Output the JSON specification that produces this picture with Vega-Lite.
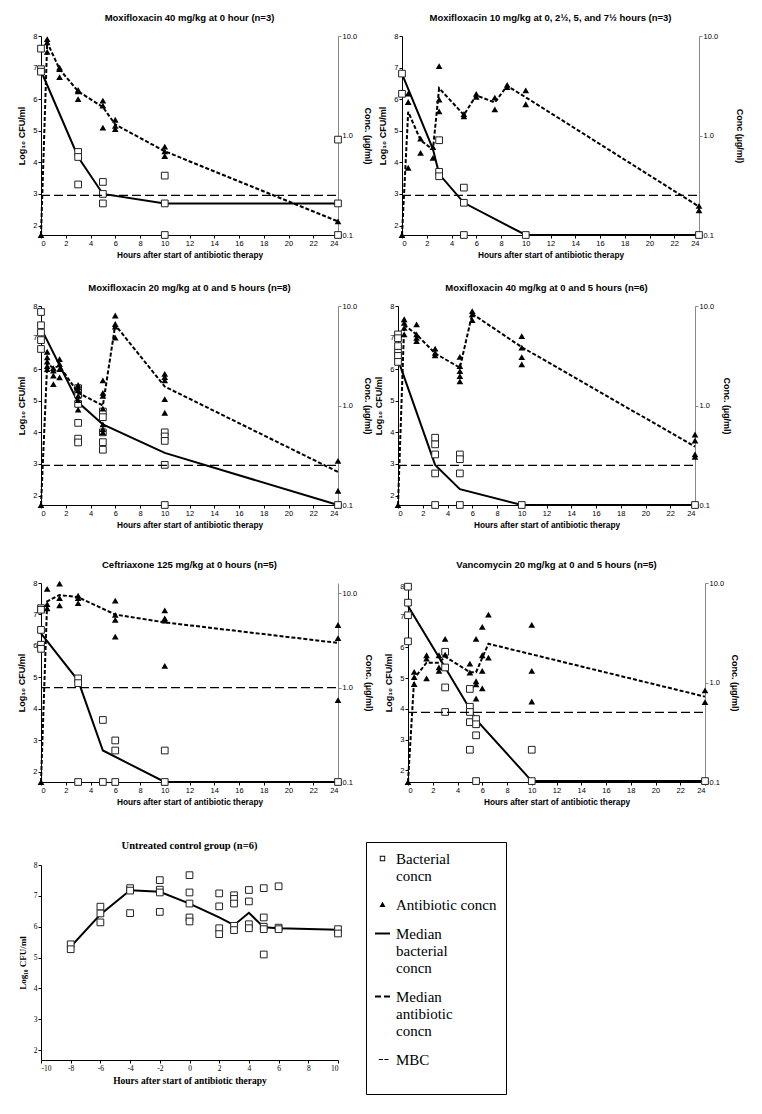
{
"$schema": "https://vega.github.io/schema/vega-lite/v6.json",
"background": "white",
"padding": {"left": 17, "top": 12, "right": 5, "bottom": 5},
"datasets": {
"leg": [{"k": "Bacterial concn"}, {"k": "Antibiotic concn"}, {"k": "Median bacterial concn"}, {"k": "Median antibiotic concn"}, {"k": "MBC"}],
"obs": [
{"p":1,"s":"b","t":0,"v":7.6},{"p":1,"s":"b","t":0,"v":6.95},{"p":1,"s":"b","t":0,"v":6.87},{"p":1,"s":"b","t":3,"v":4.33},{"p":1,"s":"b","t":3,"v":4.17},{"p":1,"s":"b","t":3,"v":3.3},{"p":1,"s":"b","t":5,"v":3.38},{"p":1,"s":"b","t":5,"v":3.0},{"p":1,"s":"b","t":5,"v":2.7},{"p":1,"s":"b","t":10,"v":3.58},{"p":1,"s":"b","t":10,"v":2.7},{"p":1,"s":"b","t":10,"v":1.7},{"p":1,"s":"b","t":24,"v":4.72},{"p":1,"s":"b","t":24,"v":2.7},{"p":1,"s":"b","t":24,"v":1.7},
{"p":1,"s":"bm","t":0,"v":6.9},{"p":1,"s":"bm","t":3,"v":4.17},{"p":1,"s":"bm","t":5,"v":3.0},{"p":1,"s":"bm","t":10,"v":2.7},{"p":1,"s":"bm","t":24,"v":2.7},
{"p":1,"s":"a","t":0,"v":0.1},{"p":1,"s":"a","t":0.5,"v":9.29},{"p":1,"s":"a","t":0.5,"v":8.64},{"p":1,"s":"a","t":0.5,"v":6.94},{"p":1,"s":"a","t":1.5,"v":4.82},{"p":1,"s":"a","t":1.5,"v":4.64},{"p":1,"s":"a","t":1.5,"v":3.86},{"p":1,"s":"a","t":3,"v":2.88},{"p":1,"s":"a","t":3,"v":2.78},{"p":1,"s":"a","t":3,"v":2.32},{"p":1,"s":"a","t":5,"v":2.24},{"p":1,"s":"a","t":5,"v":2.0},{"p":1,"s":"a","t":5,"v":1.2},{"p":1,"s":"a","t":6,"v":1.44},{"p":1,"s":"a","t":6,"v":1.25},{"p":1,"s":"a","t":6,"v":1.16},{"p":1,"s":"a","t":10,"v":0.774},{"p":1,"s":"a","t":10,"v":0.694},{"p":1,"s":"a","t":10,"v":0.622},{"p":1,"s":"a","t":24,"v":0.137},
{"p":1,"s":"am","t":0,"v":0.1},{"p":1,"s":"am","t":0.5,"v":8.64},{"p":1,"s":"am","t":1.5,"v":4.64},{"p":1,"s":"am","t":3,"v":2.78},{"p":1,"s":"am","t":5,"v":1.93},{"p":1,"s":"am","t":6,"v":1.29},{"p":1,"s":"am","t":10,"v":0.694},{"p":1,"s":"am","t":24,"v":0.137},
{"p":1,"s":"mbc","t":0,"v":0.25},{"p":1,"s":"mbc","t":24,"v":0.25},

{"p":2,"s":"b","t":0,"v":6.81},{"p":2,"s":"b","t":0,"v":6.17},{"p":2,"s":"b","t":3,"v":4.7},{"p":2,"s":"b","t":3,"v":3.7},{"p":2,"s":"b","t":3,"v":3.56},{"p":2,"s":"b","t":5,"v":3.2},{"p":2,"s":"b","t":5,"v":2.72},{"p":2,"s":"b","t":5,"v":1.7},{"p":2,"s":"b","t":10,"v":1.7},{"p":2,"s":"b","t":24,"v":1.7},
{"p":2,"s":"bm","t":0,"v":6.8},{"p":2,"s":"bm","t":2.5,"v":4.42},{"p":2,"s":"bm","t":3,"v":3.63},{"p":2,"s":"bm","t":5,"v":2.72},{"p":2,"s":"bm","t":10,"v":1.7},{"p":2,"s":"bm","t":24,"v":1.7},
{"p":2,"s":"a","t":0,"v":0.1},{"p":2,"s":"a","t":0.5,"v":2.64},{"p":2,"s":"a","t":0.5,"v":2.17},{"p":2,"s":"a","t":0.5,"v":0.474},{"p":2,"s":"a","t":1.5,"v":0.929},{"p":2,"s":"a","t":1.5,"v":0.668},{"p":2,"s":"a","t":2.5,"v":0.764},{"p":2,"s":"a","t":2.5,"v":0.596},{"p":2,"s":"a","t":3,"v":4.99},{"p":2,"s":"a","t":3,"v":2.3},{"p":2,"s":"a","t":3,"v":1.75},{"p":2,"s":"a","t":5,"v":1.64},{"p":2,"s":"a","t":5,"v":1.56},{"p":2,"s":"a","t":6,"v":2.62},{"p":2,"s":"a","t":6,"v":2.44},{"p":2,"s":"a","t":7.5,"v":2.4},{"p":2,"s":"a","t":7.5,"v":1.83},{"p":2,"s":"a","t":8.5,"v":3.22},{"p":2,"s":"a","t":8.5,"v":3.06},{"p":2,"s":"a","t":10,"v":2.84},{"p":2,"s":"a","t":10,"v":2.06},{"p":2,"s":"a","t":24,"v":0.196},{"p":2,"s":"a","t":24,"v":0.177},
{"p":2,"s":"am","t":0,"v":0.1},{"p":2,"s":"am","t":0.5,"v":1.73},{"p":2,"s":"am","t":1.5,"v":0.896},{"p":2,"s":"am","t":2.5,"v":0.72},{"p":2,"s":"am","t":3,"v":2.99},{"p":2,"s":"am","t":5,"v":1.61},{"p":2,"s":"am","t":6,"v":2.53},{"p":2,"s":"am","t":7.5,"v":2.15},{"p":2,"s":"am","t":8.5,"v":3.15},{"p":2,"s":"am","t":10,"v":2.42},{"p":2,"s":"am","t":24,"v":0.193},
{"p":2,"s":"mbc","t":0,"v":0.25},{"p":2,"s":"mbc","t":24,"v":0.25},

{"p":3,"s":"b","t":0,"v":7.81},{"p":3,"s":"b","t":0,"v":7.39},{"p":3,"s":"b","t":0,"v":7.16},{"p":3,"s":"b","t":0,"v":6.92},{"p":3,"s":"b","t":0,"v":6.64},{"p":3,"s":"b","t":3,"v":5.4},{"p":3,"s":"b","t":3,"v":5.2},{"p":3,"s":"b","t":3,"v":4.9},{"p":3,"s":"b","t":3,"v":4.3},{"p":3,"s":"b","t":3,"v":3.8},{"p":3,"s":"b","t":3,"v":3.68},{"p":3,"s":"b","t":5,"v":4.66},{"p":3,"s":"b","t":5,"v":4.48},{"p":3,"s":"b","t":5,"v":4.0},{"p":3,"s":"b","t":5,"v":3.69},{"p":3,"s":"b","t":5,"v":3.45},{"p":3,"s":"b","t":10,"v":4.0},{"p":3,"s":"b","t":10,"v":3.87},{"p":3,"s":"b","t":10,"v":3.73},{"p":3,"s":"b","t":10,"v":2.97},{"p":3,"s":"b","t":10,"v":1.7},{"p":3,"s":"b","t":24,"v":1.7},
{"p":3,"s":"bm","t":0,"v":7.3},{"p":3,"s":"bm","t":3,"v":4.95},{"p":3,"s":"bm","t":5,"v":4.25},{"p":3,"s":"bm","t":10,"v":3.35},{"p":3,"s":"bm","t":24,"v":1.7},
{"p":3,"s":"a","t":0,"v":0.1},{"p":3,"s":"a","t":0.5,"v":3.47},{"p":3,"s":"a","t":0.5,"v":3.04},{"p":3,"s":"a","t":0.5,"v":2.76},{"p":3,"s":"a","t":0.5,"v":2.49},{"p":3,"s":"a","t":0.5,"v":2.32},{"p":3,"s":"a","t":1,"v":2.37},{"p":3,"s":"a","t":1,"v":2.24},{"p":3,"s":"a","t":1,"v":2.0},{"p":3,"s":"a","t":1,"v":1.64},{"p":3,"s":"a","t":1.5,"v":2.93},{"p":3,"s":"a","t":1.5,"v":2.61},{"p":3,"s":"a","t":1.5,"v":2.32},{"p":3,"s":"a","t":1.5,"v":1.92},{"p":3,"s":"a","t":3,"v":1.61},{"p":3,"s":"a","t":3,"v":1.53},{"p":3,"s":"a","t":3,"v":1.42},{"p":3,"s":"a","t":3,"v":1.25},{"p":3,"s":"a","t":3,"v":1.13},{"p":3,"s":"a","t":3,"v":0.91},{"p":3,"s":"a","t":5,"v":1.79},{"p":3,"s":"a","t":5,"v":1.34},{"p":3,"s":"a","t":5,"v":1.25},{"p":3,"s":"a","t":5,"v":0.929},{"p":3,"s":"a","t":5,"v":0.645},{"p":3,"s":"a","t":5,"v":0.578},{"p":3,"s":"a","t":5,"v":0.537},{"p":3,"s":"a","t":6,"v":8.03},{"p":3,"s":"a","t":6,"v":6.59},{"p":3,"s":"a","t":6,"v":6.22},{"p":3,"s":"a","t":6,"v":4.82},{"p":3,"s":"a","t":10,"v":2.08},{"p":3,"s":"a","t":10,"v":1.93},{"p":3,"s":"a","t":10,"v":1.79},{"p":3,"s":"a","t":10,"v":1.16},{"p":3,"s":"a","t":10,"v":0.845},{"p":3,"s":"a","t":24,"v":0.278},{"p":3,"s":"a","t":24,"v":0.139},
{"p":3,"s":"am","t":0,"v":0.1},{"p":3,"s":"am","t":0.5,"v":2.59},{"p":3,"s":"am","t":1,"v":2.4},{"p":3,"s":"am","t":1.5,"v":2.49},{"p":3,"s":"am","t":3,"v":1.34},{"p":3,"s":"am","t":5,"v":1.0},{"p":3,"s":"am","t":6,"v":6.45},{"p":3,"s":"am","t":10,"v":1.55},{"p":3,"s":"am","t":24,"v":0.215},
{"p":3,"s":"mbc","t":0,"v":0.25},{"p":3,"s":"mbc","t":24,"v":0.25},

{"p":4,"s":"b","t":0,"v":7.1},{"p":4,"s":"b","t":0,"v":6.98},{"p":4,"s":"b","t":0,"v":6.73},{"p":4,"s":"b","t":0,"v":6.52},{"p":4,"s":"b","t":0,"v":6.42},{"p":4,"s":"b","t":0,"v":6.23},{"p":4,"s":"b","t":3,"v":3.83},{"p":4,"s":"b","t":3,"v":3.62},{"p":4,"s":"b","t":3,"v":3.3},{"p":4,"s":"b","t":3,"v":2.7},{"p":4,"s":"b","t":3,"v":1.7},{"p":4,"s":"b","t":5,"v":3.3},{"p":4,"s":"b","t":5,"v":3.15},{"p":4,"s":"b","t":5,"v":2.7},{"p":4,"s":"b","t":5,"v":1.7},{"p":4,"s":"b","t":10,"v":1.7},{"p":4,"s":"b","t":24,"v":1.7},
{"p":4,"s":"bm","t":0,"v":6.3},{"p":4,"s":"bm","t":3,"v":2.97},{"p":4,"s":"bm","t":5,"v":2.2},{"p":4,"s":"bm","t":10,"v":1.7},{"p":4,"s":"bm","t":24,"v":1.7},
{"p":4,"s":"a","t":0,"v":0.1},{"p":4,"s":"a","t":0.5,"v":7.36},{"p":4,"s":"a","t":0.5,"v":6.79},{"p":4,"s":"a","t":0.5,"v":6.04},{"p":4,"s":"a","t":0.5,"v":5.18},{"p":4,"s":"a","t":1.5,"v":6.54},{"p":4,"s":"a","t":1.5,"v":5.18},{"p":4,"s":"a","t":1.5,"v":4.78},{"p":4,"s":"a","t":1.5,"v":4.44},{"p":4,"s":"a","t":3,"v":3.73},{"p":4,"s":"a","t":3,"v":3.39},{"p":4,"s":"a","t":3,"v":3.2},{"p":4,"s":"a","t":5,"v":3.08},{"p":4,"s":"a","t":5,"v":2.49},{"p":4,"s":"a","t":5,"v":2.22},{"p":4,"s":"a","t":5,"v":1.97},{"p":4,"s":"a","t":5,"v":1.75},{"p":4,"s":"a","t":6,"v":8.89},{"p":4,"s":"a","t":6,"v":8.26},{"p":4,"s":"a","t":6,"v":7.2},{"p":4,"s":"a","t":10,"v":4.99},{"p":4,"s":"a","t":10,"v":3.81},{"p":4,"s":"a","t":10,"v":3.06},{"p":4,"s":"a","t":10,"v":2.59},{"p":4,"s":"a","t":24,"v":0.511},{"p":4,"s":"a","t":24,"v":0.445},{"p":4,"s":"a","t":24,"v":0.322},{"p":4,"s":"a","t":24,"v":0.304},
{"p":4,"s":"am","t":0,"v":0.1},{"p":4,"s":"am","t":0.5,"v":6.45},{"p":4,"s":"am","t":1.5,"v":5.18},{"p":4,"s":"am","t":3,"v":3.34},{"p":4,"s":"am","t":5,"v":2.4},{"p":4,"s":"am","t":6,"v":8.34},{"p":4,"s":"am","t":10,"v":3.86},{"p":4,"s":"am","t":24,"v":0.386},
{"p":4,"s":"mbc","t":0,"v":0.25},{"p":4,"s":"mbc","t":24,"v":0.25},

{"p":5,"s":"b","t":0,"v":7.2},{"p":5,"s":"b","t":0,"v":7.15},{"p":5,"s":"b","t":0,"v":6.51},{"p":5,"s":"b","t":0,"v":6.04},{"p":5,"s":"b","t":0,"v":5.91},{"p":5,"s":"b","t":3,"v":4.97},{"p":5,"s":"b","t":3,"v":4.82},{"p":5,"s":"b","t":3,"v":1.68},{"p":5,"s":"b","t":5,"v":3.65},{"p":5,"s":"b","t":5,"v":1.68},{"p":5,"s":"b","t":6,"v":3.0},{"p":5,"s":"b","t":6,"v":2.68},{"p":5,"s":"b","t":6,"v":1.68},{"p":5,"s":"b","t":10,"v":2.68},{"p":5,"s":"b","t":10,"v":1.68},{"p":5,"s":"b","t":24,"v":1.68},
{"p":5,"s":"bm","t":0,"v":6.4},{"p":5,"s":"bm","t":3,"v":4.9},{"p":5,"s":"bm","t":5,"v":2.68},{"p":5,"s":"bm","t":10,"v":1.68},{"p":5,"s":"bm","t":24,"v":1.68},
{"p":5,"s":"a","t":0,"v":0.1},{"p":5,"s":"a","t":0.5,"v":11.1},{"p":5,"s":"a","t":0.5,"v":7.64},{"p":5,"s":"a","t":0.5,"v":6.92},{"p":5,"s":"a","t":1.5,"v":12.6},{"p":5,"s":"a","t":1.5,"v":8.85},{"p":5,"s":"a","t":1.5,"v":7.41},{"p":5,"s":"a","t":3,"v":9.4},{"p":5,"s":"a","t":3,"v":8.85},{"p":5,"s":"a","t":3,"v":7.82},{"p":5,"s":"a","t":6,"v":8.32},{"p":5,"s":"a","t":6,"v":5.89},{"p":5,"s":"a","t":6,"v":5.21},{"p":5,"s":"a","t":6,"v":3.47},{"p":5,"s":"a","t":10,"v":6.56},{"p":5,"s":"a","t":10,"v":5.41},{"p":5,"s":"a","t":10,"v":5.13},{"p":5,"s":"a","t":10,"v":1.7},{"p":5,"s":"a","t":24,"v":4.6},{"p":5,"s":"a","t":24,"v":3.34},{"p":5,"s":"a","t":24,"v":0.735},
{"p":5,"s":"am","t":0,"v":0.1},{"p":5,"s":"am","t":0.5,"v":8.19},{"p":5,"s":"am","t":1.5,"v":9.55},{"p":5,"s":"am","t":3,"v":9.05},{"p":5,"s":"am","t":6,"v":5.93},{"p":5,"s":"am","t":10,"v":4.9},{"p":5,"s":"am","t":24,"v":2.97},
{"p":5,"s":"mbc","t":0,"v":1.0},{"p":5,"s":"mbc","t":24,"v":1.0},

{"p":6,"s":"b","t":0,"v":7.98},{"p":6,"s":"b","t":0,"v":7.46},{"p":6,"s":"b","t":0,"v":7.05},{"p":6,"s":"b","t":0,"v":6.2},{"p":6,"s":"b","t":3,"v":5.86},{"p":6,"s":"b","t":3,"v":5.35},{"p":6,"s":"b","t":3,"v":4.7},{"p":6,"s":"b","t":3,"v":3.9},{"p":6,"s":"b","t":5,"v":4.65},{"p":6,"s":"b","t":5,"v":4.07},{"p":6,"s":"b","t":5,"v":3.9},{"p":6,"s":"b","t":5,"v":3.57},{"p":6,"s":"b","t":5,"v":2.67},{"p":6,"s":"b","t":5.5,"v":3.67},{"p":6,"s":"b","t":5.5,"v":3.5},{"p":6,"s":"b","t":5.5,"v":3.14},{"p":6,"s":"b","t":5.5,"v":1.65},{"p":6,"s":"b","t":10,"v":2.67},{"p":6,"s":"b","t":10,"v":1.65},{"p":6,"s":"b","t":24,"v":1.65},
{"p":6,"s":"bm","t":0,"v":7.35},{"p":6,"s":"bm","t":3,"v":5.35},{"p":6,"s":"bm","t":5,"v":4.0},{"p":6,"s":"bm","t":5.5,"v":3.65},{"p":6,"s":"bm","t":10,"v":1.65},{"p":6,"s":"bm","t":24,"v":1.65},
{"p":6,"s":"a","t":0,"v":0.1},{"p":6,"s":"a","t":0.5,"v":1.28},{"p":6,"s":"a","t":0.5,"v":1.13},{"p":6,"s":"a","t":0.5,"v":0.966},{"p":6,"s":"a","t":1.5,"v":1.88},{"p":6,"s":"a","t":1.5,"v":1.74},{"p":6,"s":"a","t":1.5,"v":1.1},{"p":6,"s":"a","t":2.5,"v":1.88},{"p":6,"s":"a","t":2.5,"v":1.42},{"p":6,"s":"a","t":2.5,"v":1.31},{"p":6,"s":"a","t":3,"v":2.74},{"p":6,"s":"a","t":3,"v":1.91},{"p":6,"s":"a","t":5,"v":1.55},{"p":6,"s":"a","t":5,"v":1.26},{"p":6,"s":"a","t":5.5,"v":2.74},{"p":6,"s":"a","t":5.5,"v":1.03},{"p":6,"s":"a","t":5.5,"v":0.958},{"p":6,"s":"a","t":5.5,"v":0.691},{"p":6,"s":"a","t":6,"v":3.62},{"p":6,"s":"a","t":6,"v":1.88},{"p":6,"s":"a","t":6,"v":1.31},{"p":6,"s":"a","t":6,"v":0.874},{"p":6,"s":"a","t":6.5,"v":4.81},{"p":6,"s":"a","t":6.5,"v":1.78},{"p":6,"s":"a","t":10,"v":3.8},{"p":6,"s":"a","t":10,"v":1.31},{"p":6,"s":"a","t":10,"v":0.644},{"p":6,"s":"a","t":24,"v":0.832},{"p":6,"s":"a","t":24,"v":0.634},
{"p":6,"s":"am","t":0,"v":0.1},{"p":6,"s":"am","t":0.5,"v":1.1},{"p":6,"s":"am","t":1.5,"v":1.58},{"p":6,"s":"am","t":2.5,"v":1.58},{"p":6,"s":"am","t":3,"v":1.82},{"p":6,"s":"am","t":5,"v":1.27},{"p":6,"s":"am","t":5.5,"v":1.27},{"p":6,"s":"am","t":6.5,"v":2.45},{"p":6,"s":"am","t":24,"v":0.721},
{"p":6,"s":"mbc","t":0,"v":0.5},{"p":6,"s":"mbc","t":24,"v":0.5},

{"p":7,"s":"b","t":-8,"v":5.43},{"p":7,"s":"b","t":-8,"v":5.27},{"p":7,"s":"b","t":-6,"v":6.65},{"p":7,"s":"b","t":-6,"v":6.43},{"p":7,"s":"b","t":-6,"v":6.14},{"p":7,"s":"b","t":-4,"v":7.25},{"p":7,"s":"b","t":-4,"v":7.17},{"p":7,"s":"b","t":-4,"v":6.44},{"p":7,"s":"b","t":-2,"v":7.51},{"p":7,"s":"b","t":-2,"v":7.2},{"p":7,"s":"b","t":-2,"v":7.11},{"p":7,"s":"b","t":-2,"v":6.48},{"p":7,"s":"b","t":0,"v":7.67},{"p":7,"s":"b","t":0,"v":7.11},{"p":7,"s":"b","t":0,"v":6.75},{"p":7,"s":"b","t":0,"v":6.3},{"p":7,"s":"b","t":0,"v":6.17},{"p":7,"s":"b","t":2,"v":7.08},{"p":7,"s":"b","t":2,"v":6.66},{"p":7,"s":"b","t":2,"v":5.95},{"p":7,"s":"b","t":2,"v":5.76},{"p":7,"s":"b","t":3,"v":7.02},{"p":7,"s":"b","t":3,"v":6.9},{"p":7,"s":"b","t":3,"v":6.75},{"p":7,"s":"b","t":3,"v":6.03},{"p":7,"s":"b","t":3,"v":5.89},{"p":7,"s":"b","t":4,"v":7.19},{"p":7,"s":"b","t":4,"v":6.82},{"p":7,"s":"b","t":4,"v":6.08},{"p":7,"s":"b","t":4,"v":5.95},{"p":7,"s":"b","t":5,"v":7.25},{"p":7,"s":"b","t":5,"v":6.3},{"p":7,"s":"b","t":5,"v":6.0},{"p":7,"s":"b","t":5,"v":5.92},{"p":7,"s":"b","t":5,"v":5.1},{"p":7,"s":"b","t":6,"v":7.31},{"p":7,"s":"b","t":6,"v":5.97},{"p":7,"s":"b","t":6,"v":5.92},{"p":7,"s":"b","t":10,"v":5.92},{"p":7,"s":"b","t":10,"v":5.78},
{"p":7,"s":"bm","t":-8,"v":5.35},{"p":7,"s":"bm","t":-6,"v":6.4},{"p":7,"s":"bm","t":-4,"v":7.18},{"p":7,"s":"bm","t":-2,"v":7.13},{"p":7,"s":"bm","t":0,"v":6.75},{"p":7,"s":"bm","t":2,"v":6.3},{"p":7,"s":"bm","t":3,"v":6.05},{"p":7,"s":"bm","t":4,"v":6.45},{"p":7,"s":"bm","t":5,"v":5.98},{"p":7,"s":"bm","t":6,"v":5.95},{"p":7,"s":"bm","t":10,"v":5.9}
]
},
"spacing": 23,
"vconcat": [
{"bounds": "flush", "spacing": 64, "hconcat": [
{"title": {"text": "Moxifloxacin 40 mg/kg at 0 hour (n=3)"}, "width": 297, "height": 199,
 "data": {"name": "obs"}, "transform": [{"filter": "datum.p == 1"}],
 "encoding": {"x": {"field": "t", "type": "quantitative", "scale": {"domain": [0, 24], "nice": false, "zero": false}, "axis": {"values": [0,2,4,6,8,10,12,14,16,18,20,22,24], "title": "Hours after start of antibiotic therapy"}}},
 "layer": [
  {"encoding": {"y": {"field": "v", "type": "quantitative", "scale": {"domain": [1.7, 8], "nice": false, "zero": false}, "axis": {"values": [2,3,4,5,6,7,8], "title": "Log₁₀ CFU/ml"}}},
   "layer": [
    {"transform": [{"filter": "datum.s == 'bm'"}], "mark": {"type": "line", "color": "black", "strokeWidth": 2}, "encoding": {}},
    {"transform": [{"filter": "datum.s == 'b'"}], "mark": {"type": "point", "shape": "square", "filled": true, "fill": "white", "stroke": "#222", "strokeWidth": 1, "size": 45, "opacity": 1}, "encoding": {}}
   ]},
  {"encoding": {"y": {"field": "v", "type": "quantitative", "scale": {"type": "log", "domain": [0.1, 10], "nice": false}, "axis": {"orient": "right", "values": [0.1, 1, 10], "format": ".1f", "title": "Conc. (µg/ml)"}}},
   "layer": [
    {"transform": [{"filter": "datum.s == 'mbc'"}], "mark": {"type": "line", "color": "black", "strokeWidth": 1.2, "strokeDash": [9, 4]}, "encoding": {}},
    {"transform": [{"filter": "datum.s == 'am'"}], "mark": {"type": "line", "color": "black", "strokeWidth": 2, "strokeDash": [4, 2]}, "encoding": {}},
    {"transform": [{"filter": "datum.s == 'a'"}], "mark": {"type": "point", "shape": "triangle-up", "filled": true, "color": "black", "size": 45, "opacity": 1}, "encoding": {}}
   ]}
 ],
 "resolve": {"scale": {"y": "independent"}}},
{"title": {"text": "Moxifloxacin 10 mg/kg at 0, 2½, 5, and 7½ hours (n=3)"}, "width": 297, "height": 199,
 "data": {"name": "obs"}, "transform": [{"filter": "datum.p == 2"}],
 "encoding": {"x": {"field": "t", "type": "quantitative", "scale": {"domain": [0, 24], "nice": false, "zero": false}, "axis": {"values": [0,2,4,6,8,10,12,14,16,18,20,22,24], "title": "Hours after start of antibiotic therapy"}}},
 "layer": [
  {"encoding": {"y": {"field": "v", "type": "quantitative", "scale": {"domain": [1.7, 8], "nice": false, "zero": false}, "axis": {"values": [2,3,4,5,6,7,8], "title": "Log₁₀ CFU/ml"}}},
   "layer": [
    {"transform": [{"filter": "datum.s == 'bm'"}], "mark": {"type": "line", "color": "black", "strokeWidth": 2}, "encoding": {}},
    {"transform": [{"filter": "datum.s == 'b'"}], "mark": {"type": "point", "shape": "square", "filled": true, "fill": "white", "stroke": "#222", "strokeWidth": 1, "size": 45, "opacity": 1}, "encoding": {}}
   ]},
  {"encoding": {"y": {"field": "v", "type": "quantitative", "scale": {"type": "log", "domain": [0.1, 10], "nice": false}, "axis": {"orient": "right", "values": [0.1, 1, 10], "format": ".1f", "title": "Conc (µg/ml)", "titlePadding": 17}}},
   "layer": [
    {"transform": [{"filter": "datum.s == 'mbc'"}], "mark": {"type": "line", "color": "black", "strokeWidth": 1.2, "strokeDash": [9, 4]}, "encoding": {}},
    {"transform": [{"filter": "datum.s == 'am'"}], "mark": {"type": "line", "color": "black", "strokeWidth": 2, "strokeDash": [4, 2]}, "encoding": {}},
    {"transform": [{"filter": "datum.s == 'a'"}], "mark": {"type": "point", "shape": "triangle-up", "filled": true, "color": "black", "size": 45, "opacity": 1}, "encoding": {}}
   ]}
 ],
 "resolve": {"scale": {"y": "independent"}}}
]},
{"bounds": "flush", "spacing": 60, "title": {"text": " ", "orient": "bottom", "fontSize": 1, "offset": 6},
 "hconcat": [
{"title": {"text": "Moxifloxacin 20 mg/kg at 0 and 5 hours (n=8)"}, "width": 297, "height": 199,
 "data": {"name": "obs"}, "transform": [{"filter": "datum.p == 3"}],
 "encoding": {"x": {"field": "t", "type": "quantitative", "scale": {"domain": [0, 24], "nice": false, "zero": false}, "axis": {"values": [0,2,4,6,8,10,12,14,16,18,20,22,24], "title": "Hours after start of antibiotic therapy"}}},
 "layer": [
  {"encoding": {"y": {"field": "v", "type": "quantitative", "scale": {"domain": [1.7, 8], "nice": false, "zero": false}, "axis": {"values": [2,3,4,5,6,7,8], "title": "Log₁₀ CFU/ml"}}},
   "layer": [
    {"transform": [{"filter": "datum.s == 'bm'"}], "mark": {"type": "line", "color": "black", "strokeWidth": 2}, "encoding": {}},
    {"transform": [{"filter": "datum.s == 'b'"}], "mark": {"type": "point", "shape": "square", "filled": true, "fill": "white", "stroke": "#222", "strokeWidth": 1, "size": 45, "opacity": 1}, "encoding": {}}
   ]},
  {"encoding": {"y": {"field": "v", "type": "quantitative", "scale": {"type": "log", "domain": [0.1, 10], "nice": false}, "axis": {"orient": "right", "values": [0.1, 1, 10], "format": ".1f", "title": "Conc. (µg/ml)"}}},
   "layer": [
    {"transform": [{"filter": "datum.s == 'mbc'"}], "mark": {"type": "line", "color": "black", "strokeWidth": 1.2, "strokeDash": [9, 4]}, "encoding": {}},
    {"transform": [{"filter": "datum.s == 'am'"}], "mark": {"type": "line", "color": "black", "strokeWidth": 2, "strokeDash": [4, 2]}, "encoding": {}},
    {"transform": [{"filter": "datum.s == 'a'"}], "mark": {"type": "point", "shape": "triangle-up", "filled": true, "color": "black", "size": 45, "opacity": 1}, "encoding": {}}
   ]}
 ],
 "resolve": {"scale": {"y": "independent"}}},
{"title": {"text": "Moxifloxacin 40 mg/kg at 0 and 5 hours (n=6)"}, "width": 297, "height": 199,
 "data": {"name": "obs"}, "transform": [{"filter": "datum.p == 4"}],
 "encoding": {"x": {"field": "t", "type": "quantitative", "scale": {"domain": [0, 24], "nice": false, "zero": false}, "axis": {"values": [0,2,4,6,8,10,12,14,16,18,20,22,24], "title": "Hours after start of antibiotic therapy"}}},
 "layer": [
  {"encoding": {"y": {"field": "v", "type": "quantitative", "scale": {"domain": [1.7, 8], "nice": false, "zero": false}, "axis": {"values": [2,3,4,5,6,7,8], "title": "Log₁₀ CFU/ml"}}},
   "layer": [
    {"transform": [{"filter": "datum.s == 'bm'"}], "mark": {"type": "line", "color": "black", "strokeWidth": 2}, "encoding": {}},
    {"transform": [{"filter": "datum.s == 'b'"}], "mark": {"type": "point", "shape": "square", "filled": true, "fill": "white", "stroke": "#222", "strokeWidth": 1, "size": 45, "opacity": 1}, "encoding": {}}
   ]},
  {"encoding": {"y": {"field": "v", "type": "quantitative", "scale": {"type": "log", "domain": [0.1, 10], "nice": false}, "axis": {"orient": "right", "values": [0.1, 1, 10], "format": ".1f", "title": "Conc. (µg/ml)", "titlePadding": 8}}},
   "layer": [
    {"transform": [{"filter": "datum.s == 'mbc'"}], "mark": {"type": "line", "color": "black", "strokeWidth": 1.2, "strokeDash": [9, 4]}, "encoding": {}},
    {"transform": [{"filter": "datum.s == 'am'"}], "mark": {"type": "line", "color": "black", "strokeWidth": 2, "strokeDash": [4, 2]}, "encoding": {}},
    {"transform": [{"filter": "datum.s == 'a'"}], "mark": {"type": "point", "shape": "triangle-up", "filled": true, "color": "black", "size": 45, "opacity": 1}, "encoding": {}}
   ]}
 ],
 "resolve": {"scale": {"y": "independent"}}}
]},
{"bounds": "flush", "spacing": 70, "title": {"text": " ", "orient": "bottom", "fontSize": 1, "offset": 10},
 "hconcat": [
{"title": {"text": "Ceftriaxone 125 mg/kg at 0 hours (n=5)"}, "width": 297, "height": 199,
 "data": {"name": "obs"}, "transform": [{"filter": "datum.p == 5"}],
 "encoding": {"x": {"field": "t", "type": "quantitative", "scale": {"domain": [0, 24], "nice": false, "zero": false}, "axis": {"values": [0,2,4,6,8,10,12,14,16,18,20,22,24], "title": "Hours after start of antibiotic therapy"}}},
 "layer": [
  {"encoding": {"y": {"field": "v", "type": "quantitative", "scale": {"domain": [1.68, 8], "nice": false, "zero": false}, "axis": {"values": [2,3,4,5,6,7,8], "title": "Log₁₀ CFU/ml"}}},
   "layer": [
    {"transform": [{"filter": "datum.s == 'bm'"}], "mark": {"type": "line", "color": "black", "strokeWidth": 2}, "encoding": {}},
    {"transform": [{"filter": "datum.s == 'b'"}], "mark": {"type": "point", "shape": "square", "filled": true, "fill": "white", "stroke": "#222", "strokeWidth": 1, "size": 45, "opacity": 1}, "encoding": {}}
   ]},
  {"encoding": {"y": {"field": "v", "type": "quantitative", "scale": {"type": "log", "domain": [0.1, 12.8], "nice": false}, "axis": {"orient": "right", "values": [0.1, 1, 10], "format": ".1f", "title": "Conc. (µg/ml)", "titlePadding": 7}}},
   "layer": [
    {"transform": [{"filter": "datum.s == 'mbc'"}], "mark": {"type": "line", "color": "black", "strokeWidth": 1.2, "strokeDash": [9, 4]}, "encoding": {}},
    {"transform": [{"filter": "datum.s == 'am'"}], "mark": {"type": "line", "color": "black", "strokeWidth": 2, "strokeDash": [4, 2]}, "encoding": {}},
    {"transform": [{"filter": "datum.s == 'a'"}], "mark": {"type": "point", "shape": "triangle-up", "filled": true, "color": "black", "size": 45, "opacity": 1}, "encoding": {}}
   ]}
 ],
 "resolve": {"scale": {"y": "independent"}}},
{"title": {"text": "Vancomycin 20 mg/kg at 0 and 5 hours (n=5)"}, "width": 297, "height": 199,
 "data": {"name": "obs"}, "transform": [{"filter": "datum.p == 6"}],
 "encoding": {"x": {"field": "t", "type": "quantitative", "scale": {"domain": [0, 24], "nice": false, "zero": false}, "axis": {"values": [0,2,4,6,8,10,12,14,16,18,20,22,24], "title": "Hours after start of antibiotic therapy"}}},
 "layer": [
  {"encoding": {"y": {"field": "v", "type": "quantitative", "scale": {"domain": [1.62, 8.1], "nice": false, "zero": false}, "axis": {"values": [2,3,4,5,6,7,8], "title": "Log₁₀ CFU/ml"}}},
   "layer": [
    {"transform": [{"filter": "datum.s == 'bm'"}], "mark": {"type": "line", "color": "black", "strokeWidth": 2}, "encoding": {}},
    {"transform": [{"filter": "datum.s == 'b'"}], "mark": {"type": "point", "shape": "square", "filled": true, "fill": "white", "stroke": "#222", "strokeWidth": 1, "size": 45, "opacity": 1}, "encoding": {}}
   ]},
  {"encoding": {"y": {"field": "v", "type": "quantitative", "scale": {"type": "log", "domain": [0.1, 10], "nice": false}, "axis": {"orient": "right", "values": [0.1, 1, 10], "format": ".1f", "title": "Conc. (µg/ml)"}}},
   "layer": [
    {"transform": [{"filter": "datum.s == 'mbc'"}], "mark": {"type": "line", "color": "black", "strokeWidth": 1.2, "strokeDash": [9, 4]}, "encoding": {}},
    {"transform": [{"filter": "datum.s == 'am'"}], "mark": {"type": "line", "color": "black", "strokeWidth": 2, "strokeDash": [4, 2]}, "encoding": {}},
    {"transform": [{"filter": "datum.s == 'a'"}], "mark": {"type": "point", "shape": "triangle-up", "filled": true, "color": "black", "size": 45, "opacity": 1}, "encoding": {}}
   ]}
 ],
 "resolve": {"scale": {"y": "independent"}}}
]},
{"title": {"text": "Untreated control group (n=6)", "font": "Liberation Serif", "fontSize": 10.5}, "width": 297, "height": 195,
 "data": {"name": "obs"}, "transform": [{"filter": "datum.p == 7"}],
 "encoding": {"x": {"field": "t", "type": "quantitative", "scale": {"domain": [-10, 10], "nice": false, "zero": false}, "axis": {"values": [-10,-8,-6,-4,-2,0,2,4,6,8,10], "labelExpr": "replace(datum.label, '\u2212', '-')", "title": "Hours after start of antibiotic therapy", "labelFont": "Liberation Serif", "titleFont": "Liberation Serif", "titleFontSize": 9.5}}},
 "layer": [
  {"encoding": {"y": {"field": "v", "type": "quantitative", "scale": {"domain": [1.68, 8], "nice": false, "zero": false}, "axis": {"values": [2,3,4,5,6,7,8], "title": "Log₁₀ CFU/ml", "labelFont": "Liberation Serif", "titleFont": "Liberation Serif"}}},
   "layer": [
    {"transform": [{"filter": "datum.s == 'bm'"}], "mark": {"type": "line", "color": "black", "strokeWidth": 2}, "encoding": {}},
    {"transform": [{"filter": "datum.s == 'b'"}], "mark": {"type": "point", "shape": "square", "filled": true, "fill": "white", "stroke": "#222", "strokeWidth": 1, "size": 45, "opacity": 1}, "encoding": {}}
   ]},
  {"data": {"name": "leg"},
   "mark": {"type": "point", "filled": true, "color": "black", "opacity": 0},
   "encoding": {"shape": {"field": "k", "type": "nominal",
     "scale": {"domain": ["Bacterial concn", "Antibiotic concn", "Median bacterial concn", "Median antibiotic concn", "MBC"],
               "range": ["M-0.36,-0.36H0.36V0.36H-0.36ZM-0.24,-0.24V0.24H0.24V-0.24Z", "M0,-0.36L0.4,0.32H-0.4Z", "M-1,-0.13H1V0.13H-1Z", "M-1,-0.13H-0.2V0.13H-1ZM0.2,-0.13H1V0.13H0.2Z", "M-0.5,-0.07H0.05V0.07H-0.5ZM0.25,-0.07H0.8V0.07H0.25Z"]},
     "legend": {"orient": "none", "legendX": 325, "legendY": 806, "title": null, "padding": 9, "strokeColor": "black",
       "labelFont": "Liberation Serif", "labelFontSize": 15, "labelColor": "black", "labelLimit": 300, "labelOffset": 6, "labelBaseline": "middle",
       "rowPadding": 13, "symbolSize": 225, "symbolOpacity": 1, "symbolFillColor": "black", "symbolStrokeWidth": 0,
       "labelExpr": "datum.label == 'Bacterial concn' ? ['Bacterial', 'concn'] : datum.label == 'Median bacterial concn' ? ['Median', 'bacterial', 'concn'] : datum.label == 'Median antibiotic concn' ? ['Median', 'antibiotic', 'concn'] : datum.label == 'MBC' ? ['MBC', ' '] : datum.label"}}}}
 ]}
],
"config": {
 "view": {"stroke": null},
 "font": "Liberation Sans",
 "title": {"font": "Liberation Sans", "fontSize": 9.5, "fontWeight": "bold", "color": "black", "anchor": "middle", "frame": "group", "offset": 10},
 "axis": {"grid": false, "labelFont": "Liberation Sans", "titleFont": "Liberation Sans", "labelFontSize": 7.5, "labelColor": "black", "titleFontSize": 9, "titleFontWeight": "bold", "titleColor": "black", "domainColor": "black", "tickColor": "black", "tickSize": 3, "labelPadding": 1},
 "axisX": {"titlePadding": 4, "titleFontSize": 8.3},
 "axisLeft": {"titlePadding": 6},
 "axisRight": {"titlePadding": 6, "domainColor": "#888", "tickColor": "#888"}
}
}
